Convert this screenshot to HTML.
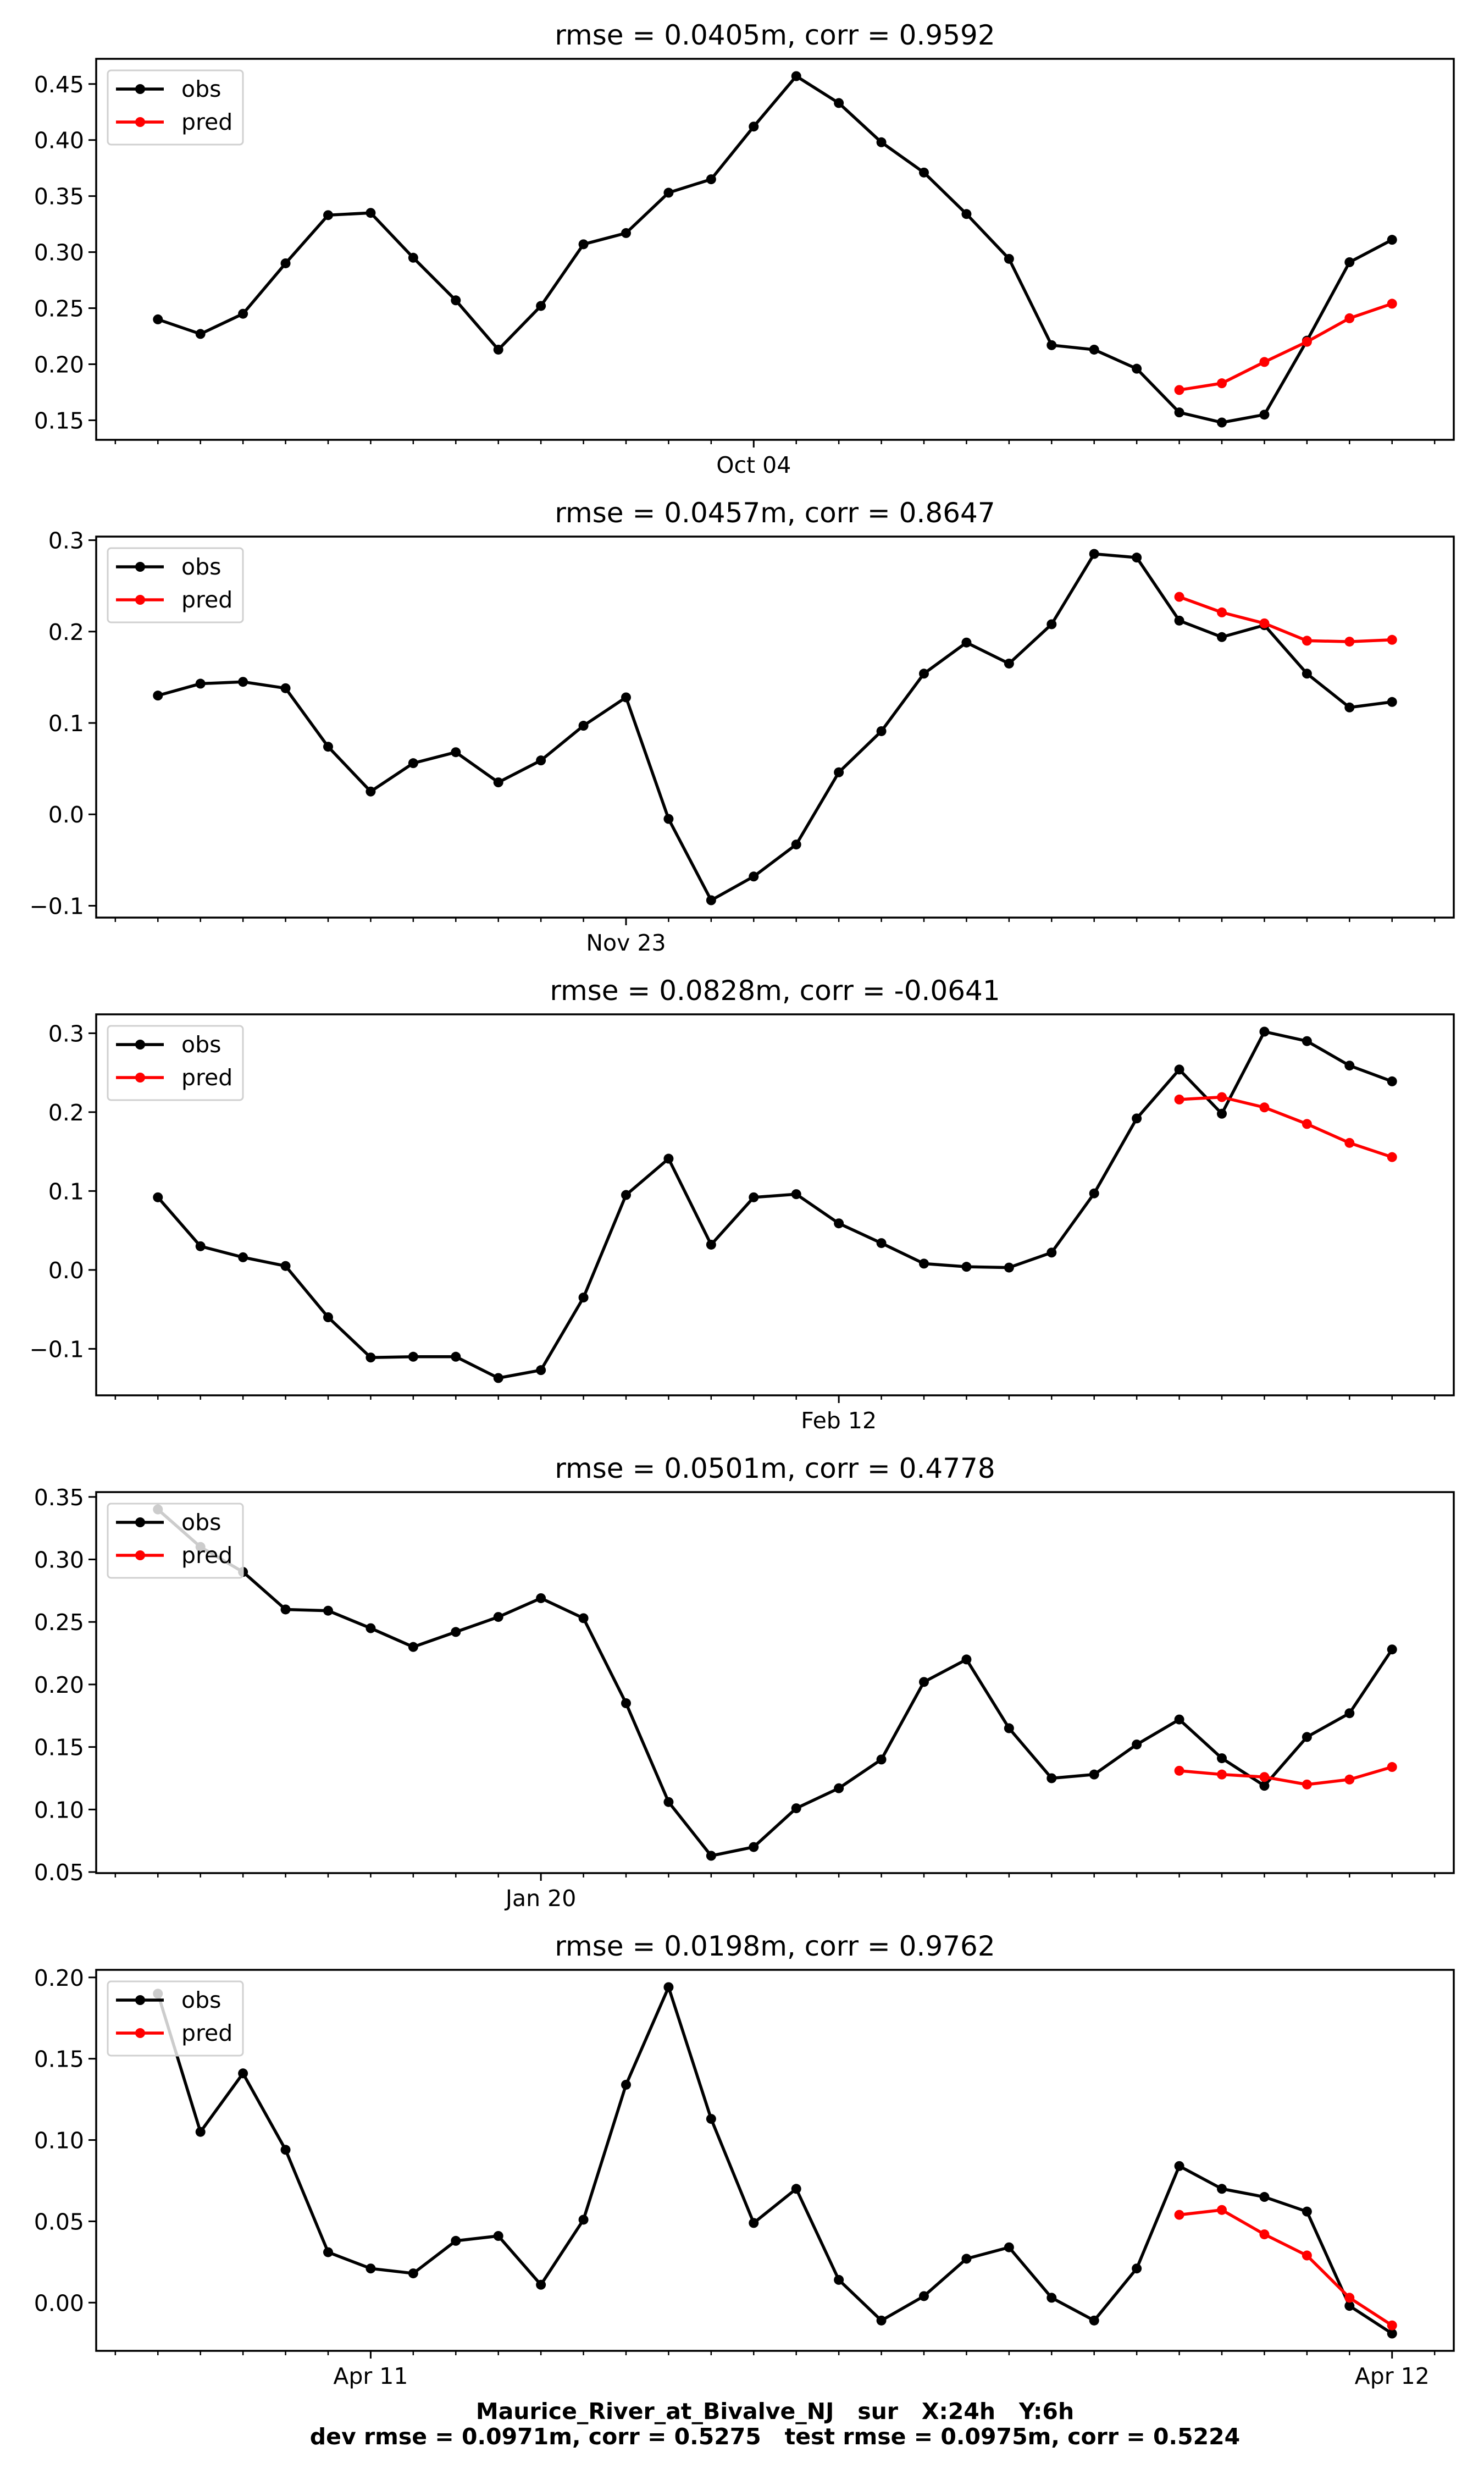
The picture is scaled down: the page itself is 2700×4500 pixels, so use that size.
<!DOCTYPE html>
<html><head><meta charset="utf-8"><style>
html,body{margin:0;padding:0;background:#fff}
svg{display:block}
text{font-family:"DejaVu Sans","Liberation Sans",sans-serif;fill:#000}
</style></head><body>
<svg id="fig" width="2700" height="4500" xmlns="http://www.w3.org/2000/svg"></svg>
<script>
const titles = ["rmse = 0.0405m, corr = 0.9592","rmse = 0.0457m, corr = 0.8647","rmse = 0.0828m, corr = -0.0641","rmse = 0.0501m, corr = 0.4778","rmse = 0.0198m, corr = 0.9762"];
const obs1 = [0.240,0.227,0.245,0.290,0.333,0.335,0.295,0.257,0.213,0.252,0.307,0.317,0.353,0.365,0.412,0.457,0.433,0.398,0.371,0.334,0.294,0.217,0.213,0.196,0.157,0.148,0.155,0.221,0.291,0.311];
const pred1 = [0.177,0.183,0.202,0.220,0.241,0.254];
const obs2 = [0.130,0.143,0.145,0.138,0.074,0.025,0.056,0.068,0.035,0.059,0.097,0.128,-0.005,-0.094,-0.068,-0.033,0.046,0.091,0.154,0.188,0.165,0.208,0.285,0.281,0.212,0.194,0.207,0.154,0.117,0.123];
const pred2 = [0.238,0.221,0.209,0.190,0.189,0.191];
const obs3 = [0.092,0.030,0.016,0.005,-0.060,-0.111,-0.110,-0.110,-0.137,-0.127,-0.035,0.095,0.141,0.032,0.092,0.096,0.059,0.034,0.008,0.004,0.003,0.022,0.097,0.192,0.254,0.198,0.302,0.290,0.259,0.239];
const pred3 = [0.216,0.219,0.206,0.185,0.161,0.143];
const obs4 = [0.340,0.310,0.290,0.260,0.259,0.245,0.230,0.242,0.254,0.269,0.253,0.185,0.106,0.063,0.070,0.101,0.117,0.140,0.202,0.220,0.165,0.125,0.128,0.152,0.172,0.141,0.119,0.158,0.177,0.228];
const pred4 = [0.131,0.128,0.126,0.120,0.124,0.134];
const obs5 = [0.190,0.105,0.141,0.094,0.031,0.021,0.018,0.038,0.041,0.011,0.051,0.134,0.194,0.113,0.049,0.070,0.014,-0.011,0.004,0.027,0.034,0.003,-0.011,0.021,0.084,0.070,0.065,0.056,-0.002,-0.019];
const pred5 = [0.054,0.057,0.042,0.029,0.003,-0.014];
const predStart = 24;
const yticks1 = [0.15,0.20,0.25,0.30,0.35,0.40,0.45];
const yticks2 = [-0.1,0.0,0.1,0.2,0.3];
const yticks3 = [-0.1,0.0,0.1,0.2,0.3];
const yticks4 = [0.05,0.10,0.15,0.20,0.25,0.30,0.35];
const yticks5 = [0.00,0.05,0.10,0.15,0.20];
const ylabels1 = ["0.15","0.20","0.25","0.30","0.35","0.40","0.45"];
const ylabels2 = ["−0.1","0.0","0.1","0.2","0.3"];
const ylabels3 = ["−0.1","0.0","0.1","0.2","0.3"];
const ylabels4 = ["0.05","0.10","0.15","0.20","0.25","0.30","0.35"];
const ylabels5 = ["0.00","0.05","0.10","0.15","0.20"];
const majorIdx1 = [14], majorIdx2 = [11], majorIdx3 = [16], majorIdx4 = [9], majorIdx5 = [5,29];
const majorLab1 = ["Oct 04"], majorLab2 = ["Nov 23"], majorLab3 = ["Feb 12"], majorLab4 = ["Jan 20"], majorLab5 = ["Apr 11","Apr 12"];

const panels = [
 {obs:obs1,pred:pred1,yt:yticks1,yl:ylabels1,mi:majorIdx1,ml:majorLab1},
 {obs:obs2,pred:pred2,yt:yticks2,yl:ylabels2,mi:majorIdx2,ml:majorLab2},
 {obs:obs3,pred:pred3,yt:yticks3,yl:ylabels3,mi:majorIdx3,ml:majorLab3},
 {obs:obs4,pred:pred4,yt:yticks4,yl:ylabels4,mi:majorIdx4,ml:majorLab4},
 {obs:obs5,pred:pred5,yt:yticks5,yl:ylabels5,mi:majorIdx5,ml:majorLab5}
];
const NS="http://www.w3.org/2000/svg";
const fig=document.getElementById('fig');
function mk(tag,attrs,parent){const e=document.createElementNS(NS,tag);for(const k in attrs)e.setAttribute(k,attrs[k]);(parent||fig).appendChild(e);return e;}
const L=175,R=2645,H=693;
panels.forEach((p,i)=>{
  const T=107+i*869,B=T+H;
  const g=mk('g',{});
  
  
  const n=p.obs.length;
  const x0=-(n-1)*0.05,x1=(n-1)*1.05;
  const X=v=>L+(v-x0)/(x1-x0)*(R-L);
  const all=p.obs.concat(p.pred);
  let mn=Math.min(...all),mx=Math.max(...all),m=(mx-mn)*0.05;
  const y0=mn-m,y1=mx+m;
  const Y=v=>B-(v-y0)/(y1-y0)*H;
  const t=mk('text',{x:(L+R)/2,y:T-26,'text-anchor':'middle','font-size':50},g);
  t.textContent=titles[i];
  
  
  p.yt.forEach((v,k)=>{
    const yy=Y(v);
    mk('line',{x1:L-14,x2:L,y1:yy,y2:yy,stroke:'#000','stroke-width':3},g);
    const lt=mk('text',{x:L-22,y:yy+15,'text-anchor':'end','font-size':41},g);
    lt.textContent=p.yl[k];
    
    
  });
  for(let k=Math.ceil(x0);k<=Math.floor(x1);k++){
    if(p.mi.includes(k))continue;
    mk('line',{x1:X(k),x2:X(k),y1:B,y2:B+8,stroke:'#000','stroke-width':2.5},g);
  }
  p.mi.forEach((k,j)=>{
    mk('line',{x1:X(k),x2:X(k),y1:B,y2:B+14,stroke:'#000','stroke-width':3},g);
    const lt=mk('text',{x:X(k),y:B+60,'text-anchor':'middle','font-size':41},g);
    lt.textContent=p.ml[j];
    
    
  });
  const op=p.obs.map((v,k)=>X(k)+','+Y(v)).join(' ');
  const ol=mk('polyline',{points:op,fill:'none',stroke:'#000','stroke-width':5.5,'stroke-linejoin':'round'},g);
  
  
  p.obs.forEach((v,k)=>mk('circle',{cx:X(k),cy:Y(v),r:9,fill:'#000'},g));
  const pp=p.pred.map((v,k)=>X(predStart+k)+','+Y(v)).join(' ');
  const pl=mk('polyline',{points:pp,fill:'none',stroke:'#ff0000','stroke-width':5.5,'stroke-linejoin':'round'},g);
  
  
  p.pred.forEach((v,k)=>mk('circle',{cx:X(predStart+k),cy:Y(v),r:9,fill:'#ff0000'},g));
  const fr=mk('rect',{x:L,y:T,width:R-L,height:H,fill:'none',stroke:'#000','stroke-width':3.5},g);
  
  
  const lg=mk('g',{},g);
  
  
  mk('rect',{x:L+21,y:T+21,width:246,height:135,rx:6,fill:'rgba(255,255,255,0.8)',stroke:'#d0d0d0','stroke-width':3},lg);
  mk('line',{x1:L+36,x2:L+123,y1:T+55,y2:T+55,stroke:'#000','stroke-width':5.5},lg);
  mk('circle',{cx:L+80,cy:T+55,r:9,fill:'#000'},lg);
  const a=mk('text',{x:L+155,y:T+69,'font-size':41},lg);a.textContent='obs';
  mk('line',{x1:L+36,x2:L+123,y1:T+115,y2:T+115,stroke:'#ff0000','stroke-width':5.5},lg);
  mk('circle',{cx:L+80,cy:T+115,r:9,fill:'#ff0000'},lg);
  const b=mk('text',{x:L+155,y:T+129,'font-size':41},lg);b.textContent='pred';
});
const f1=mk('text',{x:1410,y:4400,'text-anchor':'middle','font-size':41,'font-weight':'bold'});
f1.textContent='Maurice_River_at_Bivalve_NJ   sur   X:24h   Y:6h';


f1.style.whiteSpace='pre';
const f2=mk('text',{x:1410,y:4446,'text-anchor':'middle','font-size':41,'font-weight':'bold'});
f2.textContent='dev rmse = 0.0971m, corr = 0.5275   test rmse = 0.0975m, corr = 0.5224';


f2.style.whiteSpace='pre';
</script>
</body></html>
